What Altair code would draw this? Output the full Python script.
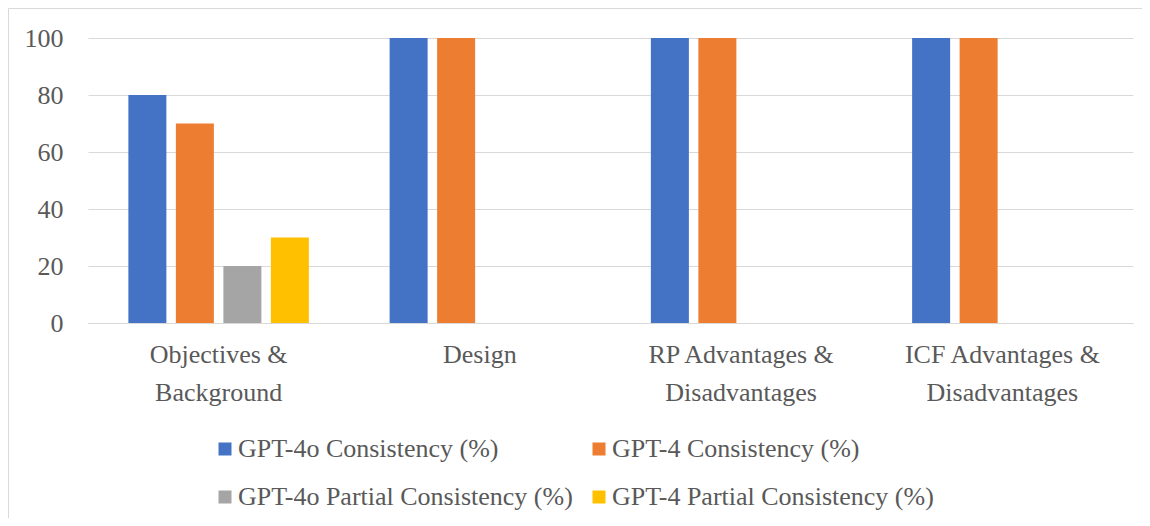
import altair as alt
import pandas as pd

categories = ["Objectives & Background", "Design", "RP Advantages & Disadvantages", "ICF Advantages & Disadvantages"]
series_names = ["GPT-4o Consistency (%)", "GPT-4 Consistency (%)",
                "GPT-4o Partial Consistency (%)", "GPT-4 Partial Consistency (%)"]
gpt4o_consistency = [80, 100, 100, 100]
gpt4_consistency = [70, 100, 100, 100]
gpt4o_partial = [20, None, None, None]
gpt4_partial = [30, None, None, None]
colors = ["#4472C4", "#ED7D31", "#A5A5A5", "#FFC000"]
y_ticks = [0, 20, 40, 60, 80, 100]

rows = []
for name, vals in zip(series_names, [gpt4o_consistency, gpt4_consistency, gpt4o_partial, gpt4_partial]):
    for cat, v in zip(categories, vals):
        if v is not None:
            rows.append({"category": cat, "series": name, "value": v})
df = pd.DataFrame(rows)

FONT = "'Liberation Serif', 'DejaVu Serif', serif"
TXT = "#595959"
GRID = "#D9D9D9"

label_expr = ("indexof(datum.value, '& ') >= 0 ? "
              "[slice(datum.value, 0, indexof(datum.value, '& ') + 1), "
              "slice(datum.value, indexof(datum.value, '& ') + 2)] : datum.value")

bars = alt.Chart(df).mark_bar().encode(
    x=alt.X("category:N", sort=categories,
            scale=alt.Scale(paddingInner=0, paddingOuter=0),
            axis=alt.Axis(title=None, labelAngle=0, ticks=False, domainColor=GRID,
                          labelFont=FONT, labelFontSize=26, labelColor=TXT,
                          labelPadding=18, labelLineHeight=38, labelLimit=0,
                          labelExpr=label_expr)),
    xOffset=alt.XOffset("series:N", sort=series_names,
                        scale=alt.Scale(domain=series_names, paddingInner=0.2, paddingOuter=0.85)),
    y=alt.Y("value:Q", scale=alt.Scale(domain=[0, 100]),
            axis=alt.Axis(title=None, values=y_ticks, domain=False, ticks=False,
                          gridColor=GRID, labelFont=FONT, labelFontSize=26,
                          labelColor=TXT, labelPadding=25)),
    color=alt.Color("series:N", sort=series_names,
                    scale=alt.Scale(domain=series_names, range=colors),
                    legend=alt.Legend(title=None, orient="none", legendX=124, legendY=398,
                                      direction="horizontal",
                                      columns=2, columnPadding=13, rowPadding=22,
                                      symbolType="square", symbolSize=169,
                                      symbolStrokeWidth=0, labelOffset=0,
                                      labelFont=FONT, labelFontSize=26,
                                      labelColor=TXT, labelLimit=0, padding=0)),
)

frame_data = alt.Data(values=[{}])
top_line = alt.Chart(frame_data).mark_rule(color=GRID, strokeWidth=1).encode(
    x=alt.value(-79.5), x2=alt.value(1060), y=alt.value(-29.5))
left_line = alt.Chart(frame_data).mark_rule(color=GRID, strokeWidth=1).encode(
    x=alt.value(-79.5), y=alt.value(-29.5), y2=alt.value(500))

chart = alt.layer(bars, top_line, left_line).properties(
    width=1045, height=285,
    autosize=alt.AutoSizeParams(type="none"),
    padding={"left": 80, "top": 30, "right": 9, "bottom": 195},
    background="white",
).configure_view(stroke=None)

chart.save("out.html", embed_options={"renderer": "svg", "actions": False})
